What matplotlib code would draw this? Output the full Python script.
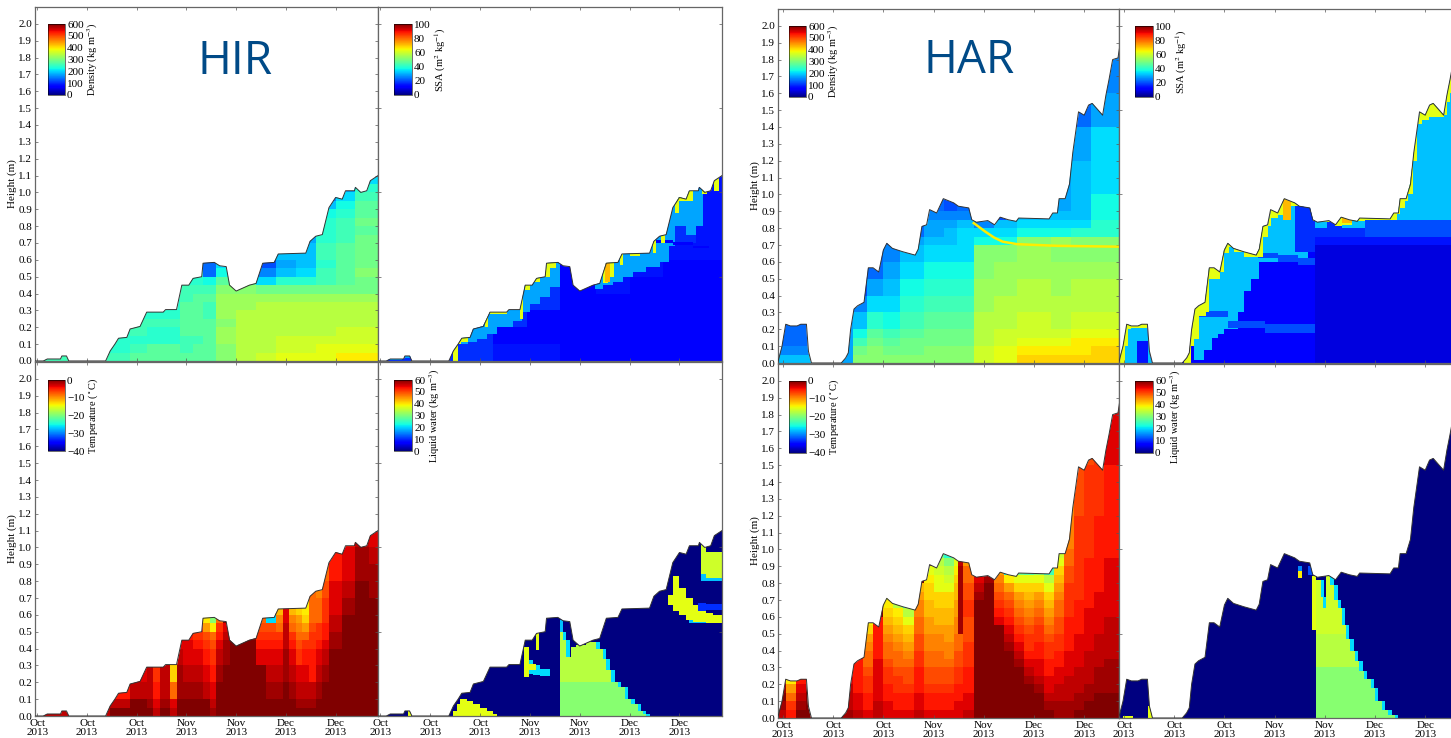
import numpy as np
import matplotlib
matplotlib.use("Agg")
import matplotlib.pyplot as plt
from matplotlib.cm import ScalarMappable
from matplotlib.colors import Normalize
from matplotlib.patches import Polygon

plt.rcParams['font.family'] = ['Liberation Serif', 'DejaVu Serif']
plt.rcParams['mathtext.fontset'] = 'stix'

W, H = 1451, 738
NONE = 3.0

tick_days = [0, 15, 30, 45, 60, 75, 90]
tick_names = ['Oct\n2013', 'Oct\n2013', 'Oct\n2013', 'Nov\n2013', 'Nov\n2013', 'Dec\n2013', 'Dec\n2013']
height_ticks = [round(0.1 * i, 1) for i in range(21)]

# ---------- snow height ----------
hir_days = [-0.7, 1.8, 3, 7, 7.4, 8.8, 9.5, 20.6, 22, 23.4, 24.5, 27, 28, 31, 33, 38, 38.7, 42, 43.6, 45.7, 47, 49.6, 50,
            53.4, 55, 57, 58, 60, 64, 66, 68, 71.5, 72.7, 81, 82.3, 84, 86, 88, 90, 92, 93, 95.7, 96, 97.6, 99.4, 100.5, 102.8]
hir_height = [0, 0, .012, .012, .03, .03, 0, 0, .06, .10, .135, .14, .19, .205, .29, .29, .305, .305, .45, .45, .49, .50, .58,
              .585, .565, .56, .45, .415, .45, .46, .58, .585, .635, .64, .71, .74, .75, .91, .97, .96, 1.01, 1.01, 1.03, 1.0, 1.01, 1.07, 1.10]
har_days = [-1.6, -1.4, -.3, .8, 2.2, 4.2, 5.3, 7, 7.6, 8.5, 17.4, 18.7, 19.5, 20.2, 21.2, 22.3, 24.2, 25.5, 26.9, 28.6, 30, 31,
            32.7, 35.8, 39.5, 40.4, 41.5, 42.9, 43.8, 45.9, 47.9, 51, 52.4, 55.5, 56.4, 57.8, 61.2, 63.2, 64.9, 67.3, 69.7,
            70.4, 79.5, 80.6, 82, 82.5, 84.3, 85.6, 86.6, 88.3, 90, 91.3, 92.4, 95.5, 96.5, 97.4, 98.5, 100.1, 100.7]
har_height = [0, .015, .1, .23, .22, .22, .23, .23, .07, 0, 0, .03, .06, .2, .32, .34, .36, .565, .565, .54, .67, .71,
              .68, .66, .64, .675, .81, .82, .91, .89, .975, .95, .93, .92, .85, .835, .845, .82, .865, .85, .84,
              .86, .855, .89, .89, .975, .975, 1.06, 1.25, 1.49, 1.47, 1.53, 1.54, 1.47, 1.59, 1.68, 1.80, 1.81, 1.89]

# Cell codes are base-36 steps on the colour scale: 0 is its bottom, z its top.
# ---------- HIR density ----------
hir_rho_x = [-1, 22, 28, 33, 43, 47, 50, 54, 60, 66, 72, 78, 84, 90, 96, 103]
hir_rho_y = [0, .05, .1, .15, .2, .25, .3, .35, .4, .45, .5, .55, .6, .65, .7, .75, .8, .85, .9, .95, 1.0, 1.05, 1.15]
hir_rho_rows = ["ffgggggiklmmmnn", "eefgfggikkllmmm", "feeeffgjkklllll", "fefegggjkkkkkll", "ffffgggikkkkkkk",
                "eeeeggfjkkkkkkk", "eeeeggfjjkkkkkk", "eeeefggjjjjjjjj", "eeeefffiihhhhhh", "eeeeeedggceefgh",
                "eeeeee8de9bcfgi", "eeeeee8ce7abegh", "eeeeeeeeeebbfgh", "eeeeeeeeeeebfgh", "eeeeeeeeeeeaefh",
                "eeeeeeeeeeeeefg", "eeeeeeeeeeeeefh", "eeeeeeeeeeeedeg", "eeeeeeeeeeeebdg", "eeeeeeeeeeee9cf",
                "eeeeeeeeeeeeeae", "eeeeeeeeeeeeeec"]
# ---------- HAR density (columns, bottom to top) ----------
har_rho_x = [-2, 10, 21, 25, 30, 35, 42, 48, 52, 57, 63, 70, 80, 86, 92, 101]
har_rho_y = [0, .05, .1, .15, .2, .3, .4, .5, .6, .7, .75, .8, .85, .9, 1.0, 1.2, 1.4, 1.6, 1.9]
har_rho_cols = ["b9888888888888888", "aaaaaaaaaaaaaaaaaa", "ihfdb97777777777", "iihgeca88888888", "ihgfdcba98888888",
                "ihhgfedcba88888", "iihhgfedcbaa9888", "iihhgfedcbba97777", "iihhgfedcccb98888",
                "llkkkjjiidc9999999", "mmllkkjjidcb777777", "onmllkkjjidcb99999", "onmlkkjjijdcbaaa99",
                "onnmlkkjiiecbbba88", "oonmlkkjiieeddcca9"]
har_crust_x = [57, 60.4, 63, 65.6, 69.9, 82, 100.4]
har_crust_h = [.83, .78, .745, .72, .705, .695, .69]

# ---------- SSA ----------
hir_ssa_x = [-1, 24, 34, 44, 54, 65, 75, 85, 95, 103]
hir_ssa_y = [0, .1, .2, .3, .4, .5, .6, .7, .8, .9, 1.0, 1.15]
hir_ssa_cols = ["66666666666", "66666666666", "54666666666", "54466666666", "44444444444",
                "44445666666", "44444556666", "44444456666", "44444455555"]
hir_azure_x = [-1, .5, 6.5, 9.5, 24.4, 26.5, 29, 32, 35, 40, 42.5, 45, 48, 51, 54, 64.5, 67, 70, 73, 76, 80, 84, 87, 88.6, 92, 95, 97, 103]
hir_azure_lo = [NONE, .005, .02, NONE, .1, .11, .13, .16, .2, .24, .29, .34, .38, .44, NONE, .43, .45, .47, .5, .53, .56, .59, .68, .8, .75, .8, NONE, NONE]
hir_yellow_x = [-1, 21.8, 23.5, 24.4, 26.5, 31.5, 32.5, 38, 42, 43, 43.5, 45, 46, 48, 49.5, 51, 53, 67, 68.5, 70.4, 72, 73, 75, 78, 82, 83, 84.4, 85.8, 88.6, 90, 92.7, 94, 96.8, 98.2, 100.4, 102, 103]
hir_yellow_lo = [NONE, 0, .1, .115, NONE, .2, .28, NONE, .25, NONE, .42, NONE, .47, NONE, .5, .55, NONE, .46, .5, NONE, .57, NONE, .625, NONE, .64, NONE, .70, NONE, .88, .95, .95, NONE, .99, NONE, 1.01, NONE, NONE]
hir_orange_x = [67.5, 69]
hir_orange_lo = [.47, .47]
hir_orange_hi = [.6, .6]
hir_band_x = [82, 88, 94, 99]
hir_band_lo = [.70, .69, .67, .65]
hir_band_hi = [.715, .705, .685, .665]

har_ssa_x = [-2, 57, 72, 85, 101]
har_ssa_y = [0, .7, .75, .85, 2.0]
har_ssa_cols = ["4444", "3566", "3578", "3578"]
har_azure_x = [-2, 3.8, 7.2, 9, 20.8, 24, 26.2, 28, 30, 34, 36, 38, 40.4, 55, 56.7, 60.8, 65, 72, 101]
har_azure_lo = [0, .13, 0, NONE, .02, .08, .15, .17, .2, .3, .43, .5, .6, .72, .8, .85, .8, .85, .85]
har_yellow_x = [-1.5, .3, 1.2, 2, 7, 8, 18, 20, 21, 22.5, 24.5, 25.5, 27.5, 28.7, 30, 31.5, 33, 36, 40.4, 41.5, 43, 44, 46, 47.5, 50, 52, 56.5, 59, 63, 65, 68, 72, 79.5, 81.5, 82.5, 84, 85, 86.5, 87.5, 89, 91, 93, 95.5, 96.5, 97.4, 98.5, 101]
har_yellow_lo = [0, .1, .2, .21, .22, NONE, 0, .1, .14, .28, .3, .5, .5, .54, .65, .69, .66, .63, .63, .75, .81, .86, .88, .86, .93, NONE, .84, .835, .81, .82, .84, .85, .85, .885, .92, .96, 1.0, 1.2, 1.42, 1.44, 1.46, 1.46, 1.47, 1.55, 1.6, 1.75, NONE]
har_orange1_x = [47.5, 50]
har_orange1_lo = [.85, .85]
har_orange1_hi = [1.0, 1.0]
har_orange2_x = [65, 68]
har_orange2_lo = [.83, .83]
har_orange2_hi = [.87, .87]
har_band1_x = [21.5, 31, 42, 57]
har_band1_lo = [.27, .21, .18, .17]
har_band1_hi = [.31, .25, .23, .20]
har_band2_x = [40, 46, 52, 57]
har_band2_lo = [.62, .60, .58, .57]
har_band2_hi = [.65, .64, .62, .60]
har_band3_x = [51, 57]
har_band3_lo = [.66, .66]
har_band3_hi = [.95, .95]
har_band4_x = [3.8, 7.2]
har_band4_lo = [0, 0]
har_band4_hi = [.13, .13]

# ---------- temperature (columns, bottom to top) ----------
hir_t_x = [-1, 22, 28, 33, 35, 37, 40, 42, 44, 47, 50, 52, 54, 56, 58, 62, 66, 69, 72, 74, 76, 78, 80, 82, 84, 86, 88, 92, 96, 100, 103]
hir_t_y = [0, .05, .1, .2, .3, .4, .45, .5, .55, .6, .7, .8, .9, 1.0, 1.15]
hir_t_cols = ["xzzz", "zxvz", "zzxw", "zyxx", "xwvu", "zyxx", "xwson", "zzyyxw", "zzyxwwv", "zzyxwvuv", "zzxwvutqn",
              "yxwvutsni", "zzzyxwvus", "zzzzyyxw", "z", "zzzzzzyx", "zzzzwvuts", "zzyxwvutc", "zzyxwvusrp",
              "zzzyyxxxww", "zzyxwvusrp", "zyxwutsrqo", "zyxwvusqon", "zyxvvuutsss", "zzyxwvuussr", "zzzyxwvvuuts",
              "zzzzzyyxxwwvv", "zzzzzzzzzyxwwv", "zzzzzzzzzzzyyx", "zzzzzzzzzzyyxw"]
har_t_x = [-2, 1, 4, 7, 9, 18, 21, 24, 27, 30, 33, 36, 39, 42, 45, 48, 51, 52.4, 53.7, 57, 60, 63, 66, 69, 72, 75, 78, 81, 84, 87, 90, 93, 96, 101]
har_t_y = [0, .05, .1, .15, .2, .25, .3, .35, .4, .45, .5, .55, .6, .65, .7, .75, .8, .85, .9, .95, 1.0, 1.2, 1.5, 1.9]
har_t_cols = ["xyzyxxx", "vusqni", "zyxwvz", "z", "z", "yxxxwwwx", "xwwvvvvw", "wvvuutssrqon", "xxwwwwwvvvvv",
              "wwvvuutssrqponm", "wvvuutssrqponki", "wvvuttsrqpomkd", "xwwvvvuuttssrrqp", "wvvuttssrrqqppoonm",
              "wvvuttssrrqppoommlkh", "wvvuttsrrqqppoomlkie", "wwvvuuttssrrqqpponmh", "wwvvuuttssyyyyyyyyxh", "xwwvvvuuutttuuttssq",
              "zzzzzzzzzzzzzzyxw", "zzzzzzzzzzzzzzzzyw", "zzzzzzzzzzzwvutsrqp", "zzzzzzzzyxwvutsqnd", "zzzzzzyxwvutsrqomh",
              "zzzzyxwvuutsrqpomg", "zzzyxwwvvuutsrqomi", "zyxwwvvuutsrqpomkf", "yyxxwwvvuuttssrqpoml", "yyxxxwwwvvvvuuuuttssrrq",
              "zyyxxxwwwwvvvvuuuuuuutt", "zzyyxxxxwwwwwvvvvvvuuut", "zzzyyyxxxxwwwwwvvvvvvuu", "zzzyyyyxxxxxwwwwwwwvvvw"]

# ---------- liquid water: (days, lower, upper) patches over a zero background ----------
hir_w1_x = [22, 23, 24, 26, 28, 30, 32, 34, 35]
hir_w1_hi = [.03, .07, .10, .09, .07, .05, .03, .01, 0]
hir_w2_x = [8.4, 9.3]
hir_w2_hi = [.035, 0]
hir_w3_x = [43.7, 46, 48, 51]
hir_w3_lo = [.25, .245, .24, .24]
hir_w3_hi = [.33, .30, .28, .27]
hir_w4_x = [43.2, 44.6, 46.7, 47.8]
hir_w4_lo = [.23, .27, .39, .39]
hir_w4_hi = [.41, .31, .49, .39]
hir_w5_x = [54, 55, 56, 57.5, 59, 60.5, 62, 64, 65, 67, 68, 69.5, 71.5, 73.5, 75.5, 77.5, 79, 80]
hir_w5_hi = [.50, .45, .35, .41, .42, .42, .44, .44, .40, .34, .27, .20, .17, .10, .07, .03, .01, 0]
hir_w5b_hi = [.20, .20, .20, .20, .20, .20, .20, .20, .20, .20, .20, .20, .17, .10, .07, .03, .01, 0]
hir_w6_x = [54, 55]
hir_w6_lo = [.5, .5]
hir_w6_hi = [.57, .57]
hir_w7_x = [86.5, 88, 90, 92, 94, 96, 98, 100, 102.8]
hir_w7_lo = [.66, .62, .60, .57, .56, .56, .55, .55, .55]
hir_w7_hi = [.72, .83, .76, .70, .66, .64, .61, .60, .59]
hir_w8_x = [93, 96, 100, 102.8]
hir_w8_lo = [.55, .55, .55, .55]
hir_w8_hi = [.57, .57, .57, .57]
hir_w9_x = [95.5, 98, 102.8]
hir_w9_lo = [.625, .63, .63]
hir_w9_hi = [.67, .665, .665]
hir_w10_x = [96.6, 98, 102.8]
hir_w10_lo = [.84, .82, .80]
hir_w10_hi = [1.03, .97, .90]
hir_w11_x = [96.6, 98, 102.8]
hir_w11_lo = [.80, .80, .78]
hir_w11_hi = [.84, .83, .81]

har_w1_x = [-.3, 2.7]
har_w1_hi = [.012, 0]
har_w2_x = [7.2, 8.5]
har_w2_hi = [.07, 0]
har_w3_x = [57.4, 58.8, 59.4, 60.4, 61.7, 62.8, 63.8, 65, 66.3, 67.6, 69, 70.3, 71.6, 73.7, 75, 77, 79, 80.9]
har_w3_hi = [.82, .72, .65, .84, .79, .70, .65, .55, .47, .40, .34, .28, .23, .18, .10, .05, .02, 0]
har_w3b_hi = [.30, .30, .30, .30, .30, .30, .30, .30, .30, .30, .30, .28, .23, .18, .10, .05, .02, 0]
har_w3c_lo = [.5, .5, .5, .5, .5, .5, .5, .5, .47, .40, .34, .28, .23, .18, .10, .05, .02, 0]
har_w4_x = [56.3, 57.4]
har_w4_lo = [.52, .52]
har_w4_hi = [.84, .84]
har_w5_x = [52, 53.3]
har_w5_lo = [.83, .83]
har_w5_hi = [.87, .87]
har_w6_x = [52, 53.3]
har_w6_lo = [.87, .87]
har_w6_hi = [.90, .90]
har_w7_x = [55, 56.4]
har_w7_lo = [.85, .85]
har_w7_hi = [.90, .90]

rho_ticks = [0, 100, 200, 300, 400, 500, 600]
ssa_ticks = [0, 20, 40, 60, 80, 100]
temp_ticks = [-40, -30, -20, -10, 0]
water_ticks = [0, 10, 20, 30, 40, 50, 60]

cmap = plt.get_cmap('jet')


def code_color(c):
    return cmap(int(c, 36) / 35)


def ax_px(fig, l, t, r, b):
    return fig.add_axes([l / W, 1 - b / H, (r - l) / W, (b - t) / H])


def mesh(ax, clip, xs, ys, cols, filler='z'):
    ny = len(ys) - 1
    arr = np.array([[int(c, 36) for c in col.ljust(ny, col[-1] if filler is None else filler)[:ny]] for col in cols]).T
    m = ax.pcolormesh(xs, ys, arr, cmap=cmap, vmin=0, vmax=35, shading='flat', linewidth=0, antialiased=False)
    m.set_clip_path(clip)


def patch(ax, clip, xs, lo, hi, code):
    p = ax.fill_between(xs, lo, hi, step='post', color=code_color(code), linewidth=0)
    p.set_clip_path(clip)


def panel(fig, box, days, height, xlim, show_y, show_x):
    ax = ax_px(fig, *box)
    ax.set_xlim(*xlim)
    ax.set_ylim(0, 2.1)
    pts = list(zip(days, height)) + [(days[-1], 0), (days[0], 0)]
    clip = Polygon(pts, closed=True, transform=ax.transData)
    ax.set_xticks(tick_days)
    ax.set_xticklabels(tick_names if show_x else [], fontsize=8, linespacing=1.0)
    if show_y:
        ax.set_yticks(height_ticks)
        ax.set_yticklabels(['%.1f' % v for v in height_ticks], fontsize=8)
        ax.set_ylabel('Height (m)', fontsize=8, labelpad=1)
    else:
        ax.set_yticks([0, .5, 1, 1.5, 2])
        ax.set_yticklabels([])
    ax.tick_params(direction='in', length=2.5, width=.5, top=True, right=True, pad=2, color='#555555')
    for s in ax.spines.values():
        s.set_linewidth(.9)
        s.set_color('#666666')
    ax.plot(days, height, color='#333333', lw=.7, zorder=5, clip_on=True)
    return ax, clip


def colorbar(fig, box, vmin, vmax, ticks, label):
    cax = ax_px(fig, *box)
    sm = ScalarMappable(norm=Normalize(vmin, vmax), cmap=cmap)
    cb = fig.colorbar(sm, cax=cax, ticks=ticks)
    cb.ax.tick_params(labelsize=8, length=0, pad=1.5)
    cb.outline.set_linewidth(.4)
    cb.set_label(label, fontsize=7.5, labelpad=1.5)


fig = plt.figure(figsize=(W / 100, H / 100), dpi=100)

HIR_LIM = (-0.7, 102.8)
HAR_LIM = (-1.5, 100.4)
WHOLE = 3.0
NAVY = '0'

# ----- HIR density -----
ax, clip = panel(fig, (35, 7, 378, 361), hir_days, hir_height, HIR_LIM, True, False)
mesh(ax, clip, hir_rho_x, hir_rho_y, [''.join(r[i] for r in hir_rho_rows) for i in range(len(hir_rho_rows[0]))], None)
colorbar(fig, (48, 24, 65, 95), 0, 600, rho_ticks, 'Density (kg m$^{-3}$)')
fig.text(235 / W, 1 - 62 / H, 'HIR', family='Open Sans', fontsize=33, color='#004a87', ha='center', va='center')

# ----- HIR SSA -----
ax, clip = panel(fig, (378, 7, 722, 361), hir_days, hir_height, HIR_LIM, False, False)
mesh(ax, clip, hir_ssa_x, hir_ssa_y, hir_ssa_cols, None)
patch(ax, clip, hir_azure_x, hir_azure_lo, WHOLE, 'a')
patch(ax, clip, hir_band_x, hir_band_lo, hir_band_hi, '4')
patch(ax, clip, hir_yellow_x, hir_yellow_lo, WHOLE, 'm')
patch(ax, clip, hir_orange_x, hir_orange_lo, hir_orange_hi, 'p')
colorbar(fig, (394, 24, 412, 95), 0, 100, ssa_ticks, 'SSA (m$^{2}$ kg$^{-1}$)')

# ----- HIR temperature -----
ax, clip = panel(fig, (35, 362, 378, 716), hir_days, hir_height, HIR_LIM, True, True)
mesh(ax, clip, hir_t_x, hir_t_y, hir_t_cols)
colorbar(fig, (48, 380, 65, 451), -40, 0, temp_ticks, 'Temperature ($^\\circ$C)')

# ----- HIR liquid water -----
ax, clip = panel(fig, (378, 362, 722, 716), hir_days, hir_height, HIR_LIM, False, True)
patch(ax, clip, [-1, 103], 0, WHOLE, NAVY)
patch(ax, clip, hir_w1_x, 0, hir_w1_hi, 'm')
patch(ax, clip, hir_w2_x, 0, hir_w2_hi, 'm')
patch(ax, clip, hir_w3_x, hir_w3_lo, hir_w3_hi, 'c')
patch(ax, clip, hir_w4_x, hir_w4_lo, hir_w4_hi, 'm')
patch(ax, clip, [d + 1 for d in hir_w5_x], 0, hir_w5_hi, 'c')
patch(ax, clip, hir_w5_x, 0, hir_w5_hi, 'k')
patch(ax, clip, hir_w5_x, 0, hir_w5b_hi, 'i')
patch(ax, clip, hir_w6_x, hir_w6_lo, hir_w6_hi, 'b')
patch(ax, clip, hir_w8_x, hir_w8_lo, hir_w8_hi, 'b')
patch(ax, clip, hir_w7_x, hir_w7_lo, hir_w7_hi, 'm')
patch(ax, clip, hir_w9_x, hir_w9_lo, hir_w9_hi, '6')
patch(ax, clip, hir_w11_x, hir_w11_lo, hir_w11_hi, 'b')
patch(ax, clip, hir_w10_x, hir_w10_lo, hir_w10_hi, 'l')
colorbar(fig, (394, 380, 412, 451), 0, 60, water_ticks, 'Liquid water (kg m$^{-3}$)')

# ----- HAR density -----
ax, clip = panel(fig, (778, 9, 1119, 363), har_days, har_height, HAR_LIM, True, False)
mesh(ax, clip, har_rho_x, har_rho_y, har_rho_cols, None)
ax.plot(har_crust_x, har_crust_h, color=code_color('n'), lw=1.8, zorder=3)
colorbar(fig, (789, 26, 806, 97), 0, 600, rho_ticks, 'Density (kg m$^{-3}$)')
fig.text(969 / W, 1 - 61 / H, 'HAR', family='Open Sans', fontsize=33, color='#004a87', ha='center', va='center')

# ----- HAR SSA -----
ax, clip = panel(fig, (1119, 9, 1460, 363), har_days, har_height, HAR_LIM, False, False)
mesh(ax, clip, har_ssa_x, har_ssa_y, har_ssa_cols, None)
patch(ax, clip, har_azure_x, har_azure_lo, WHOLE, 'b')
patch(ax, clip, har_band1_x, har_band1_lo, har_band1_hi, '7')
patch(ax, clip, har_band2_x, har_band2_lo, har_band2_hi, '7')
patch(ax, clip, har_band3_x, har_band3_lo, har_band3_hi, '6')
patch(ax, clip, har_band4_x, har_band4_lo, har_band4_hi, '5')
patch(ax, clip, har_yellow_x, har_yellow_lo, WHOLE, 'm')
patch(ax, clip, har_orange1_x, har_orange1_lo, har_orange1_hi, 'p')
patch(ax, clip, har_orange2_x, har_orange2_lo, har_orange2_hi, 'p')
colorbar(fig, (1135, 26, 1153, 97), 0, 100, ssa_ticks, 'SSA (m$^{2}$ kg$^{-1}$)')

# ----- HAR temperature -----
ax, clip = panel(fig, (778, 364, 1119, 718), har_days, har_height, HAR_LIM, True, True)
mesh(ax, clip, har_t_x, har_t_y, har_t_cols)
colorbar(fig, (789, 381, 806, 453), -40, 0, temp_ticks, 'Temperature ($^\\circ$C)')

# ----- HAR liquid water -----
ax, clip = panel(fig, (1119, 364, 1460, 718), har_days, har_height, HAR_LIM, False, True)
patch(ax, clip, [-2, 101], 0, WHOLE, NAVY)
patch(ax, clip, har_w1_x, 0, har_w1_hi, 'm')
patch(ax, clip, har_w2_x, 0, har_w2_hi, 'm')
patch(ax, clip, [d + 1 for d in har_w3_x], 0, har_w3_hi, 'c')
patch(ax, clip, har_w3_x, 0, har_w3_hi, 'k')
patch(ax, clip, har_w3_x, 0, har_w3b_hi, 'i')
patch(ax, clip, har_w3_x, har_w3c_lo, har_w3_hi, 'l')
patch(ax, clip, har_w4_x, har_w4_lo, har_w4_hi, 'm')
patch(ax, clip, har_w5_x, har_w5_lo, har_w5_hi, 'n')
patch(ax, clip, har_w6_x, har_w6_lo, har_w6_hi, '9')
patch(ax, clip, har_w7_x, har_w7_lo, har_w7_hi, '7')
colorbar(fig, (1135, 381, 1153, 453), 0, 60, water_ticks, 'Liquid water (kg m$^{-3}$)')

fig.savefig('out.png', dpi=100)
